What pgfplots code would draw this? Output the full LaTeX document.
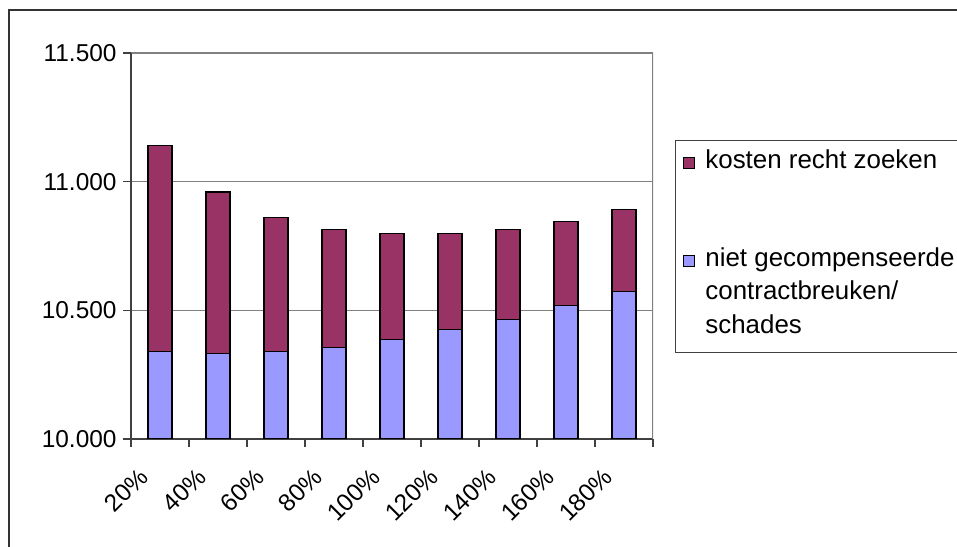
\documentclass[border=0pt]{standalone}
\usepackage{pgfplots}
\pgfplotsset{compat=1.18}
\usepackage{fontspec}
\setmainfont{Liberation Sans}
\definecolor{kost}{HTML}{993366}
\definecolor{niet}{HTML}{9999FF}
\definecolor{gridc}{HTML}{808080}
\definecolor{axc}{HTML}{404040}
\begin{document}
\begin{tikzpicture}
\useasboundingbox (0bp,0bp) rectangle (957bp,547bp);
\draw[line width=1.5bp, black!80] (9bp,-10bp) -- (9bp,537bp) -- (980bp,537bp);
\begin{axis}[
  at={(131bp,108bp)}, anchor=south west,
  scale only axis, width=522bp, height=386bp,
  ybar stacked, bar width=24bp,
  xmin=-0.5, xmax=8.5, ymin=10000, ymax=11500,
  scaled y ticks=false,
  ytick={10000,10500,11000,11500},
  yticklabels={10.000,10.500,11.000,11.500},
  yticklabel style={xshift=-3bp},
  xtick={-0.5,0.5,...,8.5}, xticklabels={},
  extra x ticks={0,1,2,3,4,5,6,7,8},
  extra x tick labels={20\%,40\%,60\%,80\%,100\%,120\%,140\%,160\%,180\%},
  extra x tick style={major tick length=0pt, xticklabel style={rotate=45, anchor=north east, xshift=-32bp, yshift=0bp}},
  tick align=outside, major tick length=8bp,
  ymajorgrids, grid style={gridc, line width=1.2bp},
  axis x line*=bottom, axis y line*=left,
  axis line style={-, line width=1.2bp, axc},
  tick style={line width=1.2bp, axc},
  tick label style={font=\fontsize{24.5}{29}\selectfont},
  legend style={at={(1.042,0.775)}, anchor=north west, draw=axc, line width=1bp, fill=white,
    font=\fontsize{26}{34}\selectfont, cells={anchor=base west}, nodes={text depth=, inner sep=2bp},
    row sep=70bp, column sep=8bp,
    inner xsep=8bp, inner ysep=7bp},
  legend image code/.code={\draw[#1, line width=1bp] (0bp,0bp) rectangle (11bp,11bp);},
  reverse legend,
]
\addplot[fill=niet, draw=black, line width=1.6bp] coordinates {
(0,10340) (1,10332) (2,10340) (3,10356) (4,10387) (5,10426) (6,10464) (7,10519) (8,10573)};
\addlegendentry{\begin{tabular}[t]{@{}l@{\hspace{20bp}}}niet gecompenseerde\\contractbreuken/\\schades\end{tabular}}
\addplot[fill=kost, draw=black, line width=1.6bp] coordinates {
(0,800) (1,629) (2,520) (3,458) (4,411) (5,372) (6,350) (7,326) (8,319)};
\addlegendentry{kosten recht zoeken}
\draw[gridc, line width=1.2bp] (rel axis cs:1,0) -- (rel axis cs:1,1);
\end{axis}
\end{tikzpicture}
\end{document}
